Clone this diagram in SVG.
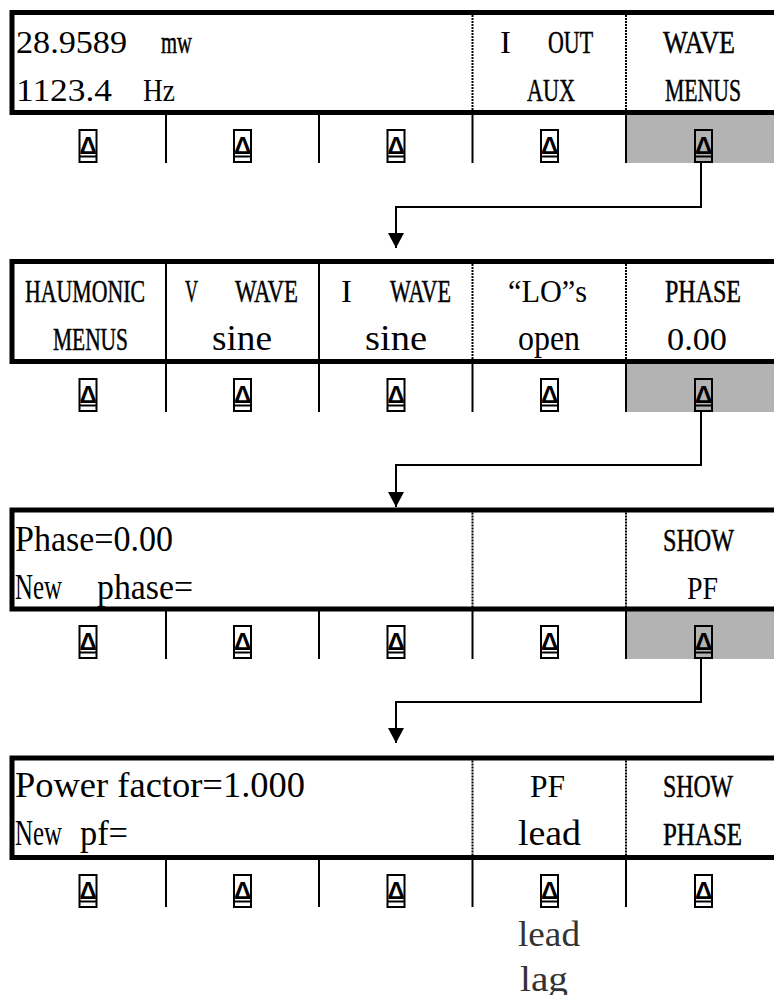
<svg xmlns="http://www.w3.org/2000/svg" xmlns:xlink="http://www.w3.org/1999/xlink" width="774" height="995" viewBox="0 0 774 995">
<style>
.t{font-family:"Liberation Serif","Times New Roman",serif;font-size:32px;fill:#000;white-space:pre}
.u{stroke:#000;stroke-width:0.5}
.lc{font-size:35px}
.g{fill:#333}
.frame{fill:none;stroke:#000;stroke-width:5}
.sep{stroke:#000;stroke-width:2}
.dot{stroke:#000;stroke-width:2;stroke-dasharray:2 1}
.hl{fill:#b3b3b3}
.conn{fill:none;stroke:#000;stroke-width:2;marker-end:url(#arr)}
.kb{fill:none;stroke:#000;stroke-width:2}
.kt{font-family:"Liberation Sans","DejaVu Sans",sans-serif;font-weight:bold;font-size:24px;fill:#000;text-anchor:middle}
</style>
<defs>
<marker id="arr" viewBox="0 0 15 16" refX="15" refY="8" markerWidth="15" markerHeight="16" markerUnits="userSpaceOnUse" orient="auto">
<path d="M0,0 L15,8 L0,16 z" fill="#000"/>
</marker>
<g id="key">
<rect class="kb" x="-8.5" y="0" width="17" height="32"/>
<line class="kb" x1="-8.5" y1="26.5" x2="8.5" y2="26.5"/>
<text class="kt" x="0" y="23.5">Δ</text>
</g>
</defs>
<rect width="774" height="995" fill="#fff"/>

<g id="panel1">
<rect class="hl" x="627" y="114" width="160" height="49"/>
<rect class="frame" x="12" y="12.5" width="800" height="100"/>
<line class="dot" x1="472.5" y1="15" x2="472.5" y2="110"/>
<line class="dot" x1="626" y1="15" x2="626" y2="110"/>
<line class="sep" x1="166" y1="112.5" x2="166" y2="163"/>
<line class="sep" x1="319" y1="112.5" x2="319" y2="163"/>
<line class="sep" x1="472.5" y1="112.5" x2="472.5" y2="163"/>
<line class="sep" x1="626" y1="112.5" x2="626" y2="163"/>
<text class="t" x="16" y="53" textLength="111" lengthAdjust="spacingAndGlyphs">28.9589</text>
<text class="t u" x="161" y="53" textLength="31" lengthAdjust="spacingAndGlyphs">mw</text>
<text class="t" x="16" y="101" textLength="96" lengthAdjust="spacingAndGlyphs">1123.4</text>
<text class="t" x="143" y="101" textLength="32" lengthAdjust="spacingAndGlyphs">Hz</text>
<text class="t" x="500" y="53" textLength="11" lengthAdjust="spacingAndGlyphs">I</text>
<text class="t u" x="548" y="53" textLength="45" lengthAdjust="spacingAndGlyphs">OUT</text>
<text class="t u" x="527" y="101" textLength="48" lengthAdjust="spacingAndGlyphs">AUX</text>
<text class="t u" x="663" y="53" textLength="72" lengthAdjust="spacingAndGlyphs">WAVE</text>
<text class="t u" x="665" y="101" textLength="76" lengthAdjust="spacingAndGlyphs">MENUS</text>
<use xlink:href="#key" x="88" y="130"/>
<use xlink:href="#key" x="242.5" y="130"/>
<use xlink:href="#key" x="396" y="130"/>
<use xlink:href="#key" x="549.5" y="130"/>
<use xlink:href="#key" x="703.5" y="130"/>
</g>

<g id="panel2">
<rect class="hl" x="627" y="363" width="160" height="49"/>
<rect class="frame" x="12" y="261.5" width="800" height="100"/>
<line class="sep" x1="166" y1="262" x2="166" y2="412"/>
<line class="sep" x1="319" y1="262" x2="319" y2="412"/>
<line class="dot" x1="472.5" y1="264" x2="472.5" y2="359"/>
<line class="dot" x1="626" y1="264" x2="626" y2="359"/>
<line class="sep" x1="472.5" y1="361.5" x2="472.5" y2="412"/>
<line class="sep" x1="626" y1="361.5" x2="626" y2="412"/>
<text class="t u" x="25" y="302" textLength="120" lengthAdjust="spacingAndGlyphs">HAUMONIC</text>
<text class="t u" x="53" y="350" textLength="75" lengthAdjust="spacingAndGlyphs">MENUS</text>
<text class="t u" x="185" y="302" textLength="13" lengthAdjust="spacingAndGlyphs">V</text>
<text class="t u" x="235" y="302" textLength="63" lengthAdjust="spacingAndGlyphs">WAVE</text>
<text class="t lc" x="212" y="350" textLength="60" lengthAdjust="spacingAndGlyphs">sine</text>
<text class="t" x="341" y="302" textLength="11" lengthAdjust="spacingAndGlyphs">I</text>
<text class="t u" x="390" y="302" textLength="61" lengthAdjust="spacingAndGlyphs">WAVE</text>
<text class="t lc" x="365" y="350" textLength="62" lengthAdjust="spacingAndGlyphs">sine</text>
<text class="t" x="508" y="302" textLength="79" lengthAdjust="spacingAndGlyphs">“LO”s</text>
<text class="t lc" x="518" y="350" textLength="62" lengthAdjust="spacingAndGlyphs">open</text>
<text class="t u" x="665" y="302" textLength="76" lengthAdjust="spacingAndGlyphs">PHASE</text>
<text class="t" x="667" y="350" textLength="60" lengthAdjust="spacingAndGlyphs">0.00</text>
<use xlink:href="#key" x="88" y="379"/>
<use xlink:href="#key" x="242.5" y="379"/>
<use xlink:href="#key" x="396" y="379"/>
<use xlink:href="#key" x="549.5" y="379"/>
<use xlink:href="#key" x="703.5" y="379"/>
</g>

<g id="panel3">
<rect class="hl" x="627" y="611" width="160" height="48"/>
<rect class="frame" x="12" y="510" width="800" height="99"/>
<line class="dot" x1="472.5" y1="512.5" x2="472.5" y2="607"/>
<line class="dot" x1="626" y1="512.5" x2="626" y2="607"/>
<line class="sep" x1="166" y1="609" x2="166" y2="659"/>
<line class="sep" x1="319" y1="609" x2="319" y2="659"/>
<line class="sep" x1="472.5" y1="609" x2="472.5" y2="659"/>
<line class="sep" x1="626" y1="609" x2="626" y2="659"/>
<text class="t lc" x="15" y="551" textLength="158" lengthAdjust="spacingAndGlyphs">Phase=0.00</text>
<text class="t lc" x="15" y="599" textLength="47" lengthAdjust="spacingAndGlyphs">New</text>
<text class="t lc" x="97" y="599" textLength="96" lengthAdjust="spacingAndGlyphs">phase=</text>
<text class="t u" x="663" y="551" textLength="71" lengthAdjust="spacingAndGlyphs">SHOW</text>
<text class="t" x="687" y="599" textLength="31" lengthAdjust="spacingAndGlyphs">PF</text>
<use xlink:href="#key" x="88" y="626"/>
<use xlink:href="#key" x="242.5" y="626"/>
<use xlink:href="#key" x="396" y="626"/>
<use xlink:href="#key" x="549.5" y="626"/>
<use xlink:href="#key" x="703.5" y="626"/>
</g>

<g id="panel4">
<rect class="frame" x="12" y="758" width="800" height="99.5"/>
<line class="dot" x1="472.5" y1="760.5" x2="472.5" y2="855"/>
<line class="dot" x1="626" y1="760.5" x2="626" y2="855"/>
<line class="sep" x1="166" y1="857.5" x2="166" y2="907"/>
<line class="sep" x1="319" y1="857.5" x2="319" y2="907"/>
<line class="sep" x1="472.5" y1="857.5" x2="472.5" y2="907"/>
<line class="sep" x1="626" y1="857.5" x2="626" y2="907"/>
<text class="t lc" x="15" y="797" textLength="290" lengthAdjust="spacingAndGlyphs">Power factor=1.000</text>
<text class="t lc" x="15" y="845" textLength="47" lengthAdjust="spacingAndGlyphs">New</text>
<text class="t lc" x="80" y="845" textLength="48" lengthAdjust="spacingAndGlyphs">pf=</text>
<text class="t" x="530" y="797" textLength="35" lengthAdjust="spacingAndGlyphs">PF</text>
<text class="t lc" x="518" y="845" textLength="63" lengthAdjust="spacingAndGlyphs">lead</text>
<text class="t u" x="663" y="797" textLength="70" lengthAdjust="spacingAndGlyphs">SHOW</text>
<text class="t u" x="663" y="845" textLength="79" lengthAdjust="spacingAndGlyphs">PHASE</text>
<use xlink:href="#key" x="88" y="875"/>
<use xlink:href="#key" x="242.5" y="875"/>
<use xlink:href="#key" x="396" y="875"/>
<use xlink:href="#key" x="549.5" y="875"/>
<use xlink:href="#key" x="703.5" y="875"/>
</g>

<g id="options">
<text class="t lc g" x="518" y="946" textLength="62" lengthAdjust="spacingAndGlyphs">lead</text>
<text class="t lc g" x="520" y="991" textLength="48" lengthAdjust="spacingAndGlyphs">lag</text>
</g>

<g id="connectors">
<path class="conn" d="M701,163 V207 H396 V248"/>
<path class="conn" d="M701,411 V465 H396 V507"/>
<path class="conn" d="M701,658 V702 H396 V743"/>
</g>
</svg>
